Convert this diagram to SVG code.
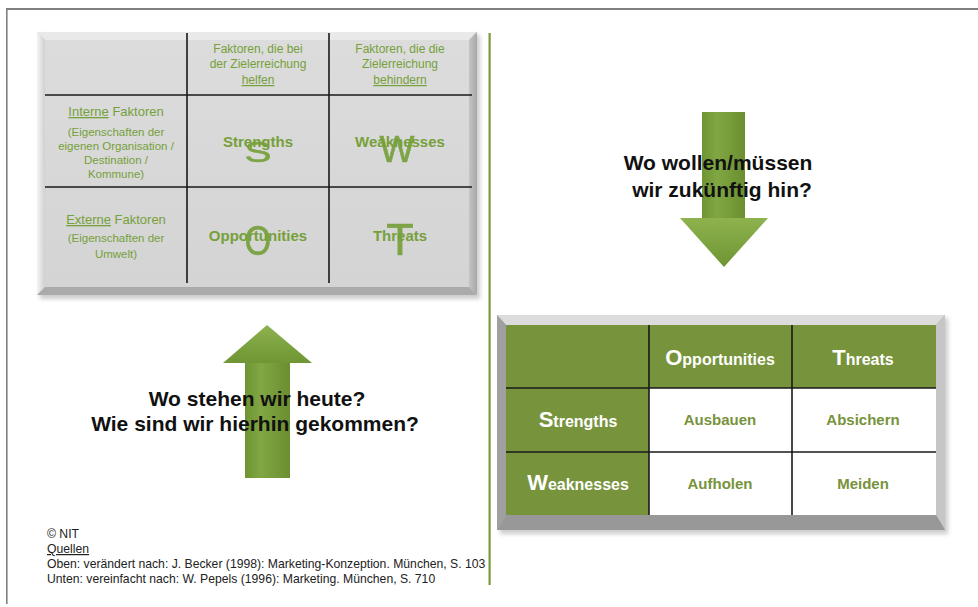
<svg xmlns="http://www.w3.org/2000/svg" width="978" height="607" viewBox="0 0 978 607">
  <defs>
    <style>
      .sans { font-family: "Liberation Sans", Arial, sans-serif; }
      .g { fill: #76a03a; }
      .hdr { font-size: 12px; text-anchor: middle; }
      .side { font-size: 13px; text-anchor: middle; }
      .paren { font-size: 11.5px; text-anchor: middle; }
      .swot { font-size: 15px; font-weight: bold; text-anchor: middle; }
      .big { font-weight: normal; text-anchor: middle; fill: #76a03a; opacity: 0.92; stroke: #76a03a; stroke-width: 0.6; }
      .grid { stroke: #1a1a1a; stroke-width: 1.6; fill: none; }
      .wt { fill: #ffffff; font-weight: bold; text-anchor: middle; }
      .act { fill: #77933c; font-weight: bold; font-size: 15px; text-anchor: middle; }
      .q { font-size: 21px; font-weight: bold; fill: #111; text-anchor: middle; }
      .src { font-size: 12.2px; fill: #222; }
    </style>
    <linearGradient id="panelFill" x1="0" y1="0" x2="0" y2="1">
      <stop offset="0" stop-color="#dcdcdc"/>
      <stop offset="1" stop-color="#d4d4d4"/>
    </linearGradient>
    <linearGradient id="bevelLeft" x1="0" y1="0" x2="1" y2="0">
      <stop offset="0" stop-color="#f4f4f4"/>
      <stop offset="1" stop-color="#d0d0d0"/>
    </linearGradient>
    <linearGradient id="bevelRight" x1="0" y1="0" x2="1" y2="0">
      <stop offset="0" stop-color="#c4c4c4"/>
      <stop offset="1" stop-color="#a8a8a8"/>
    </linearGradient>
    <linearGradient id="shaftUp" x1="0" y1="0" x2="1" y2="0">
      <stop offset="0" stop-color="#6f9433"/>
      <stop offset="0.35" stop-color="#80a743"/>
      <stop offset="1" stop-color="#6b8e30"/>
    </linearGradient>
    <linearGradient id="headFill" x1="0" y1="0" x2="0" y2="1">
      <stop offset="0" stop-color="#8db24e"/>
      <stop offset="1" stop-color="#6f9534"/>
    </linearGradient>
    <filter id="soft" x="-10%" y="-10%" width="120%" height="120%">
      <feGaussianBlur stdDeviation="2"/>
    </filter>
  </defs>

  <rect width="978" height="607" fill="#ffffff"/>

  <!-- page frame: top and left rules -->
  <g id="frame">
    <rect x="6" y="8" width="972" height="2" fill="#808080"/>
    <rect x="6" y="8" width="1.6" height="596" fill="#808080"/>
  </g>

  <!-- green divider -->
  <g id="divider">
    <rect x="488.5" y="33" width="2.2" height="552" fill="#7a9a3c"/>
  </g>

  <!-- upper SWOT matrix on a grey bevelled panel -->
  <g id="swot-panel">
    <rect x="40" y="35" width="440" height="264" fill="#9a9a9a" opacity="0.5" filter="url(#soft)"/>
    <rect x="37" y="32" width="440" height="263" fill="#c8c8c8"/>
    <polygon points="37,32 477,32 469,40 45,40" fill="#e9e9e9"/>
    <polygon points="37,32 45,40 45,287 37,295" fill="url(#bevelLeft)"/>
    <polygon points="477,32 477,295 469,287 469,40" fill="url(#bevelRight)"/>
    <polygon points="37,295 45,287 469,287 477,295" fill="#ababab"/>
    <rect x="45" y="40" width="424" height="247" fill="url(#panelFill)"/>
    <path class="grid" d="M187,33 V283 M329,33 V283 M45,95 H472 M45,187 H472"/>

    <g class="sans g">
      <text class="hdr" x="258" y="53">Faktoren, die bei</text>
      <text class="hdr" x="258" y="68">der Zielerreichung</text>
      <text class="hdr" x="258" y="84" text-decoration="underline">helfen</text>
      <text class="hdr" x="400" y="53">Faktoren, die die</text>
      <text class="hdr" x="400" y="68">Zielerreichung</text>
      <text class="hdr" x="400" y="84" text-decoration="underline">behindern</text>

      <text class="side" x="116" y="116"><tspan text-decoration="underline">Interne</tspan> Faktoren</text>
      <text class="paren" x="116" y="136">(Eigenschaften der</text>
      <text class="paren" x="116" y="150">eigenen Organisation /</text>
      <text class="paren" x="116" y="164">Destination /</text>
      <text class="paren" x="116" y="178">Kommune)</text>

      <text class="side" x="116" y="224"><tspan text-decoration="underline">Externe</tspan> Faktoren</text>
      <text class="paren" x="116" y="242">(Eigenschaften der</text>
      <text class="paren" x="116" y="258">Umwelt)</text>

      <text class="swot" x="258" y="147">Strengths</text>
      <text class="swot" x="400" y="147">Weaknesses</text>
      <text class="swot" x="258" y="241">Opportunities</text>
      <text class="swot" x="400" y="241">Threats</text>
    </g>
    <g class="sans">
      <text class="big" x="258" y="162" font-size="30" transform="translate(258 0) scale(1.35 1) translate(-258 0)">S</text>
      <text class="big" x="397" y="162" font-size="37">W</text>
      <text class="big" x="258" y="255" font-size="43" transform="translate(258 0) scale(0.8 1) translate(-258 0)">O</text>
      <text class="big" x="400" y="255" font-size="45">T</text>
    </g>
  </g>

  <!-- block arrows -->
  <g id="connectors">
    <g id="arrow-up">
      <rect x="245" y="360" width="45" height="118" fill="url(#shaftUp)"/>
      <polygon points="267,325 312,363 223,363" fill="url(#headFill)"/>
    </g>
    <g id="arrow-down">
      <rect x="702" y="112" width="43" height="108" fill="url(#shaftUp)"/>
      <polygon points="680,218 768,218 724,267" fill="url(#headFill)"/>
    </g>
  </g>

  <!-- questions -->
  <g id="question-now" class="sans">
    <text class="q" x="257" y="406">Wo stehen wir heute?</text>
    <text class="q" x="255" y="431">Wie sind wir hierhin gekommen?</text>
  </g>
  <g id="question-future" class="sans">
    <text class="q" x="718" y="170">Wo wollen/müssen</text>
    <text class="q" x="722" y="197">wir zukünftig hin?</text>
  </g>

  <!-- lower strategy matrix -->
  <g id="strategy-panel">
    <rect x="500" y="318" width="448" height="216" fill="#9a9a9a" opacity="0.5" filter="url(#soft)"/>
    <rect x="497" y="315" width="448" height="215" fill="#b0b0b0"/>
    <polygon points="497,315 945,315 936,325 506,325" fill="#dcdcdc"/>
    <polygon points="497,315 506,325 506,515 497,530" fill="#a0a0a0"/>
    <polygon points="945,315 945,530 936,515 936,325" fill="#c6c6c6"/>
    <polygon points="497,530 506,515 936,515 945,530" fill="#989898"/>
    <rect x="506" y="325" width="430" height="190" fill="#77933c"/>
    <rect x="649" y="388" width="287" height="127" fill="#ffffff"/>
    <path class="grid" d="M649,325 V515 M792,325 V515 M506,388 H936 M506,452 H936"/>

    <g class="sans">
      <text class="wt" x="720" y="365" font-size="16"><tspan font-size="22">O</tspan>pportunities</text>
      <text class="wt" x="863" y="365" font-size="16"><tspan font-size="22">T</tspan>hreats</text>
      <text class="wt" x="578" y="427" font-size="16"><tspan font-size="22">S</tspan>trengths</text>
      <text class="wt" x="578" y="490" font-size="16"><tspan font-size="22">W</tspan>eaknesses</text>
      <text class="act" x="720" y="425">Ausbauen</text>
      <text class="act" x="863" y="425">Absichern</text>
      <text class="act" x="720" y="489">Aufholen</text>
      <text class="act" x="863" y="489">Meiden</text>
    </g>
  </g>

  <!-- sources -->
  <g id="sources" class="sans">
    <text class="src" x="47" y="538">© NIT</text>
    <text class="src" x="47" y="553" text-decoration="underline">Quellen</text>
    <text class="src" x="47" y="568">Oben: verändert nach: J. Becker (1998): Marketing-Konzeption. München, S. 103</text>
    <text class="src" x="47" y="583">Unten: vereinfacht nach: W. Pepels (1996): Marketing. München, S. 710</text>
  </g>
</svg>
